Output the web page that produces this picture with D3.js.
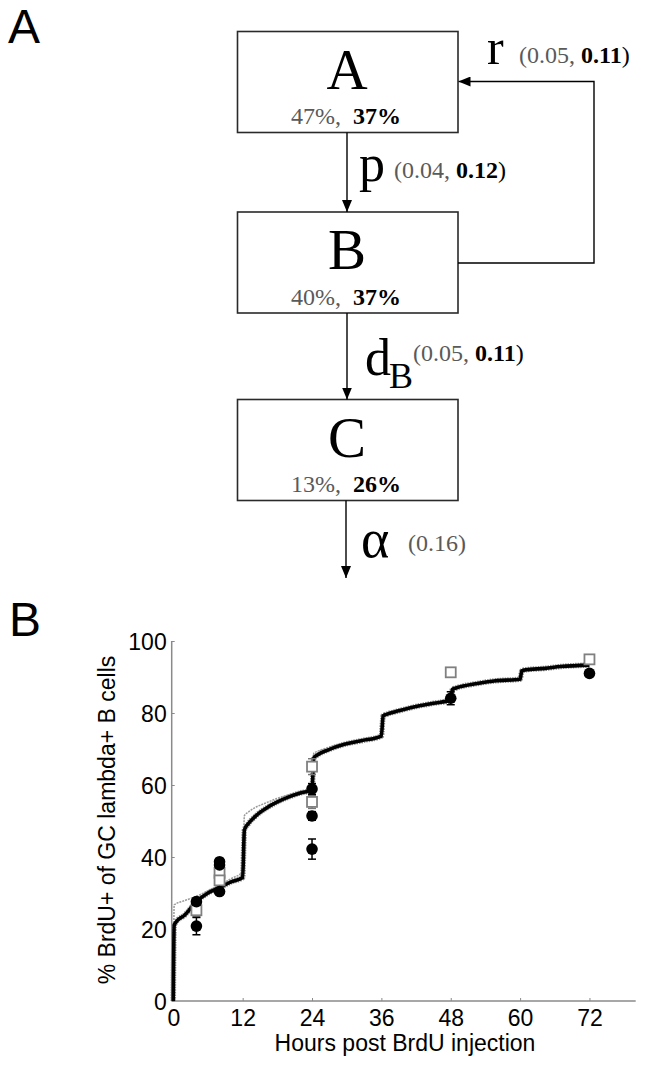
<!DOCTYPE html>
<html><head><meta charset="utf-8">
<script src="https://cdn.jsdelivr.net/npm/d3@7"></script>
<style>body{margin:0;background:#fff}svg{display:block}</style>
</head><body>
<div id="chart"></div>
<script>
// ---- Panel A: compartment model ----
const compartments = ["A", "B", "C"];
const pctModel1 = ["47%,", "40%,", "13%,"];
const pctModel2 = ["37%", "37%", "26%"];
const rateNames = ["r", "p", "d", "α"];
const rateModel1 = ["0.05,", "0.04,", "0.05,", "0.16"];
const rateModel2 = ["0.11", "0.12", "0.11", ""];

// ---- Panel B: data ----
const xTicks = [0, 12, 24, 36, 48, 60, 72];
const yTicks = [0, 20, 40, 60, 80, 100];
const circleT = [4, 4, 8, 8, 8, 24, 24, 24, 48, 72];
const circleV = [20.8, 27.6, 38.7, 37.8, 30.4, 58.9, 51.4, 42.2, 84.1, 91.0];
const circleErr = [2.4, 1.0, 0.8, 0.8, 0.8, 1.5, 1.2, 2.8, 1.8, 0.6];
const squareT = [4, 8, 8, 24, 24, 48, 72];
const squareV = [25.2, 35.6, 33.5, 65.1, 55.3, 91.3, 94.9];
const squareErr = [1.8, 1.0, 1.0, 2.2, 1.8, 0.3, 0.8];
const modelT = [0, 0.15, 0.4, 2, 4, 6, 8, 10, 12, 12.3, 13, 14, 15, 16, 18, 20, 22, 24, 24.3, 25, 26.7, 29.6, 32.5, 36, 36.3, 37, 39, 42, 45, 48, 48.3, 49, 52.6, 55.5, 60, 60.3, 61, 64.3, 67, 72];
const modelV = [0, 21, 21.8, 23.9, 27.6, 30, 31.5, 33.1, 34.3, 47.5, 49.3, 51.0, 52.4, 53.5, 55.3, 56.7, 57.8, 58.6, 67.5, 68.4, 69.7, 71.3, 72.3, 73.6, 79.2, 79.7, 80.6, 81.8, 82.7, 83.6, 86.6, 87.0, 88.2, 88.9, 89.4, 91.7, 92.0, 92.4, 92.9, 93.3];
const altT = [0, 0.15, 2, 4, 6, 8, 10, 12, 12.3, 13, 14, 16, 18, 20, 22, 24, 24.3, 25, 26, 28, 30, 33, 36, 36.3, 37, 39, 42, 45, 48, 48.3, 49, 52.6, 55.5, 60, 60.3, 61, 64.3, 67, 72];
const altV = [0, 26.7, 27.9, 29.1, 30.6, 32.2, 34, 35.9, 51.5, 52.5, 53.6, 55, 56.3, 57.3, 58.2, 59.1, 68.8, 69.4, 70, 71, 71.8, 72.8, 73.8, 79.6, 80.1, 80.9, 82, 82.9, 83.8, 86.9, 87.3, 88.4, 89.1, 89.6, 91.9, 92.2, 92.6, 93.1, 93.5];

const W = 645, H = 1065;
const svg = d3.select("#chart").append("svg").attr("width", W).attr("height", H);
const serif = "'Liberation Serif', 'Times New Roman', serif";
const sans = "'Liberation Sans', Arial, sans-serif";
const grayTxt = "#5a5a5a";

// panel letters
svg.append("text").attr("x", 8).attr("y", 43).attr("font-family", sans).attr("font-size", 48).text("A");
svg.append("text").attr("x", 9).attr("y", 636).attr("font-family", sans).attr("font-size", 48).text("B");

// arrow marker
const defs = svg.append("defs");
defs.append("marker").attr("id", "ah").attr("viewBox", "0 0 12 10").attr("refX", 12).attr("refY", 5)
  .attr("markerWidth", 12).attr("markerHeight", 10).attr("markerUnits", "userSpaceOnUse").attr("orient", "auto")
  .append("path").attr("d", "M0,0L12,5L0,10Z").attr("fill", "#000");

const boxX = 237.5, boxW = 220.5, boxH = 101;
const boxY = [31.5, 212, 399.5];
const cx = 347;
const g = svg.append("g");
g.selectAll("rect.box").data(compartments).join("rect").attr("class", "box")
  .attr("x", boxX).attr("y", (d, i) => boxY[i]).attr("width", boxW).attr("height", boxH)
  .attr("fill", "none").attr("stroke", "#2a2a2a").attr("stroke-width", 1.6);
g.selectAll("text.big").data(compartments).join("text").attr("class", "big")
  .attr("x", cx).attr("y", (d, i) => boxY[i] + 57).attr("text-anchor", "middle")
  .attr("font-family", serif).attr("font-size", 57).text(d => d);
compartments.forEach((c, i) => {
  const t = g.append("text").attr("x", cx - 1).attr("y", boxY[i] + 92.5).attr("text-anchor", "middle")
    .attr("font-family", serif).attr("font-size", 24);
  t.append("tspan").attr("fill", grayTxt).text(pctModel1[i] + "\u00a0\u00a0");
  t.append("tspan").attr("font-weight", "bold").attr("fill", "#000").text(pctModel2[i]);
});

// arrows
const line = (x1, y1, x2, y2, m) => {
  const l = g.append("line").attr("x1", x1).attr("y1", y1).attr("x2", x2).attr("y2", y2)
    .attr("stroke", "#000").attr("stroke-width", 1.4);
  if (m) l.attr("marker-end", "url(#ah)");
};
line(cx, boxY[0] + boxH, cx, boxY[1], true);
line(cx, boxY[1] + boxH, cx, boxY[2], true);
line(cx - 1, boxY[2] + boxH, cx - 1, 578, true);
g.append("polyline").attr("points", [[boxX + boxW, 263], [594, 263], [594, 81.5], [boxX + boxW + 12, 81.5]].join(" "))
  .attr("fill", "none").attr("stroke", "#000").attr("stroke-width", 1.4);
line(boxX + boxW + 12, 81.5, boxX + boxW + 0.5, 81.5, true);

// rate labels
function rateLabel(i, px, py) {
  const t = g.append("text").attr("x", px).attr("y", py).attr("font-family", serif).attr("font-size", 24);
  t.append("tspan").attr("fill", grayTxt).text("(" + rateModel1[i] + (rateModel2[i] ? " " : ""));
  if (rateModel2[i]) t.append("tspan").attr("font-weight", "bold").attr("fill", "#000").text(rateModel2[i]);
  t.append("tspan").attr("fill", rateModel2[i] ? "#000" : grayTxt).text(")");
}
g.append("text").attr("x", 487).attr("y", 64).attr("font-family", serif).attr("font-size", 50).text(rateNames[0]);
rateLabel(0, 519, 63);
g.append("text").attr("x", 359).attr("y", 181).attr("font-family", serif).attr("font-size", 52).text(rateNames[1]);
rateLabel(1, 394, 178);
g.append("text").attr("x", 365).attr("y", 375).attr("font-family", serif).attr("font-size", 52).text(rateNames[2]);
g.append("text").attr("x", 389).attr("y", 388).attr("font-family", serif).attr("font-size", 36).text("B");
rateLabel(2, 413, 361);
g.append("text").attr("x", 361).attr("y", 557).attr("font-family", serif).attr("font-size", 54).text(rateNames[3]);
rateLabel(3, 408, 551);

// ---- Panel B chart ----
const x = d3.scaleLinear().domain([0, 80]).range([173.3, 635.7]);
const y = d3.scaleLinear().domain([0, 100]).range([1001, 641]);
const axisColor = "#8a8a8a";

const xa = svg.append("g").attr("transform", "translate(0,1001)")
  .call(d3.axisBottom(x).tickValues(xTicks).tickSize(-3).tickPadding(8).tickFormat(d3.format("d")));
const ya = svg.append("g").attr("transform", "translate(171.7,0)")
  .call(d3.axisLeft(y).tickValues(yTicks).tickSize(-3).tickPadding(5).tickFormat(d3.format("d")));
[xa, ya].forEach(a => {
  a.select(".domain").attr("stroke", axisColor).attr("stroke-width", 1.5);
  a.selectAll(".tick line").attr("stroke", axisColor);
  a.selectAll(".tick text").attr("font-family", sans).attr("font-size", 23).attr("fill", "#000");
});
xa.select(".domain").attr("d", "M171.7,0H635.7");
ya.select(".domain").attr("d", "M0,641V1001");
xa.selectAll(".tick text").attr("dy", "0.71em").attr("y", 9);
ya.selectAll(".tick text").attr("dy", "0.36em");

svg.append("text").attr("x", 405).attr("y", 1051).attr("text-anchor", "middle")
  .attr("font-family", sans).attr("font-size", 23).text("Hours post BrdU injection");
svg.append("text").attr("transform", "translate(115,820) rotate(-90)").attr("text-anchor", "middle")
  .attr("font-family", sans).attr("font-size", 23).text("% BrdU+ of GC lambda+ B cells");

const lg = d3.line().x(d => x(d[0])).y(d => y(d[1])).curve(d3.curveMonotoneX);
const modelPts = modelT.map((t, i) => [t, modelV[i]]);
const altPts = altT.map((t, i) => [t, altV[i]]);
svg.append("path").attr("d", lg(modelPts)).attr("fill", "none").attr("stroke", "#8c8c8c")
  .attr("stroke-width", 5.5).attr("stroke-dasharray", "1.5,1");
svg.append("path").attr("d", lg(altPts)).attr("fill", "none").attr("stroke", "#9a9a9a")
  .attr("stroke-width", 1.5).attr("stroke-dasharray", "2,1");
svg.append("path").attr("d", lg(modelPts)).attr("fill", "none").attr("stroke", "#000")
  .attr("stroke-width", 3.6);

// error bars
function errBars(T, V, E, color) {
  const eg = svg.append("g").attr("stroke", color).attr("stroke-width", 1.5);
  T.forEach((t, i) => {
    const xx = x(t), y1 = y(V[i] - E[i]), y2 = y(V[i] + E[i]);
    eg.append("line").attr("x1", xx).attr("x2", xx).attr("y1", y1).attr("y2", y2);
    eg.append("line").attr("x1", xx - 4).attr("x2", xx + 4).attr("y1", y1).attr("y2", y1);
    eg.append("line").attr("x1", xx - 4).attr("x2", xx + 4).attr("y1", y2).attr("y2", y2);
  });
}
errBars(squareT, squareV, squareErr, "#777");
svg.append("g").selectAll("rect").data(squareT).join("rect")
  .attr("x", (t) => x(t) - 5).attr("y", (t, i) => y(squareV[i]) - 5)
  .attr("width", 10).attr("height", 10).attr("fill", "#fff").attr("stroke", "#808080").attr("stroke-width", 1.8);
errBars(circleT, circleV, circleErr, "#000");
svg.append("g").selectAll("circle").data(circleT).join("circle")
  .attr("cx", t => x(t)).attr("cy", (t, i) => y(circleV[i])).attr("r", 5.8).attr("fill", "#000");
</script>
</body></html>
